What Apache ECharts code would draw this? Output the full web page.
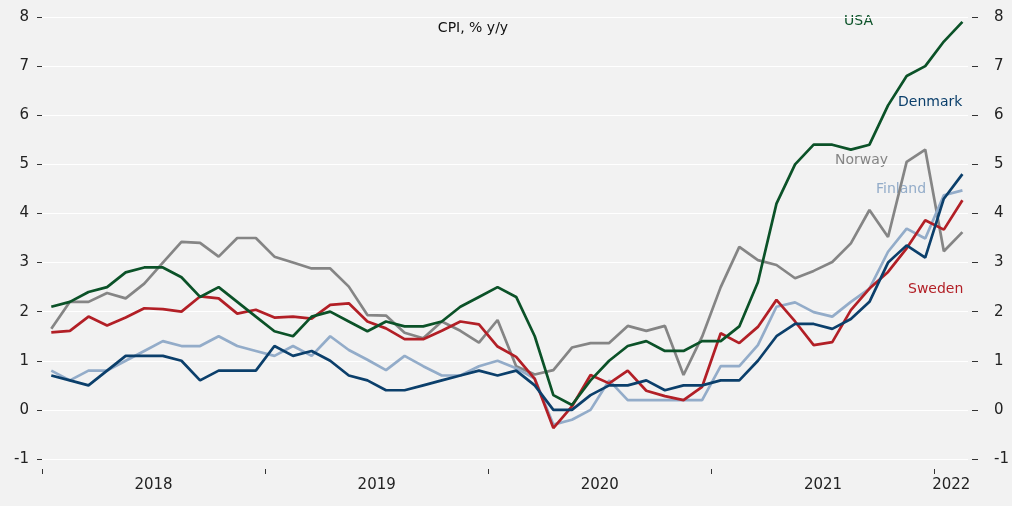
<!DOCTYPE html>
<html lang="en">
<head>
<meta charset="UTF-8">
<title>CPI, % y/y</title>
<script src="https://cdn.jsdelivr.net/npm/echarts@6/dist/echarts.min.js"></script>
<style>
  html, body { margin: 0; padding: 0; background: #f2f2f2; }
  #chart { width: 1012px; height: 506px; }
</style>
</head>
<body>
<div id="chart"></div>
<script>
// monthly CPI, % y/y, Jan 2018 .. Feb 2022
var usa = [2.1, 2.2, 2.4, 2.5, 2.8, 2.9, 2.9, 2.7, 2.3, 2.5, 2.2, 1.9,
           1.6, 1.5, 1.9, 2.0, 1.8, 1.6, 1.8, 1.7, 1.7, 1.8, 2.1, 2.3,
           2.5, 2.3, 1.5, 0.3, 0.1, 0.6, 1.0, 1.3, 1.4, 1.2, 1.2, 1.4,
           1.4, 1.7, 2.6, 4.2, 5.0, 5.4, 5.4, 5.3, 5.4, 6.2, 6.8, 7.0,
           7.5, 7.9]
var denmark = [0.7, 0.6, 0.5, 0.8, 1.1, 1.1, 1.1, 1.0, 0.6, 0.8, 0.8, 0.8,
               1.3, 1.1, 1.2, 1.0, 0.7, 0.6, 0.4, 0.4, 0.5, 0.6, 0.7, 0.8,
               0.7, 0.8, 0.5, 0.0, 0.0, 0.3, 0.5, 0.5, 0.6, 0.4, 0.5, 0.5,
               0.6, 0.6, 1.0, 1.5, 1.75, 1.75, 1.65, 1.85, 2.2, 3.0, 3.35, 3.1,
               4.3, 4.8]
var norway = [1.65, 2.2, 2.2, 2.38, 2.27, 2.57, 3.0, 3.42, 3.4, 3.12, 3.5, 3.5,
              3.12, 3.0, 2.88, 2.88, 2.51, 1.93, 1.92, 1.57, 1.46, 1.8, 1.61, 1.37,
              1.83, 0.89, 0.72, 0.81, 1.27, 1.36, 1.36, 1.71, 1.61, 1.71, 0.71, 1.49,
              2.5, 3.32, 3.05, 2.95, 2.68, 2.83, 3.01, 3.39, 4.07, 3.52, 5.05, 5.3,
              3.23, 3.62]
var finland = [0.8, 0.6, 0.8, 0.8, 1.0, 1.2, 1.4, 1.3, 1.3, 1.5, 1.3, 1.2,
               1.1, 1.3, 1.1, 1.5, 1.22, 1.02, 0.81, 1.1, 0.89, 0.7, 0.7, 0.89,
               1.0, 0.85, 0.64, -0.3, -0.2, 0.0, 0.6, 0.2, 0.2, 0.2, 0.2, 0.2,
               0.89, 0.89, 1.32, 2.1, 2.19, 1.99, 1.9, 2.2, 2.47, 3.22, 3.69, 3.49,
               4.37, 4.47]
var sweden = [1.58, 1.61, 1.9, 1.72, 1.88, 2.07, 2.05, 2.0, 2.31, 2.27, 1.96, 2.04,
              1.88, 1.9, 1.86, 2.14, 2.17, 1.8, 1.66, 1.44, 1.44, 1.61, 1.8, 1.74,
              1.29, 1.08, 0.63, -0.37, 0.07, 0.71, 0.54, 0.8, 0.39, 0.28, 0.2, 0.47,
              1.56, 1.36, 1.69, 2.24, 1.8, 1.32, 1.38, 2.03, 2.47, 2.81, 3.29, 3.86,
              3.67, 4.27]

var yearTicks = [0, 12, 24, 36, 48]           // months since Jan 2018
var yearLabelPos = [6, 18, 30, 42, 48.9]
var yearNames = ['2018', '2019', '2020', '2021', '2022']

var font = 'DejaVu Sans'

// points sit in the middle of their month
function toPoints(arr) {
    return arr.map(function (v, i) { return [i + 0.5, v] })
}

function line(name, data, color) {
    return {
        name: name,
        type: 'line',
        data: toPoints(data),
        showSymbol: false,
        lineStyle: { color: color, width: 2.7 },
        itemStyle: { color: color },
        animation: false
    }
}

var yAxisBase = {
    type: 'value',
    min: -1,
    max: 8,
    interval: 1,
    axisLine: { show: false },
    axisTick: { show: true, length: 5, lineStyle: { color: '#333' } },
    splitLine: { show: true, lineStyle: { color: '#ffffff', width: 1 } },
    axisLabel: { color: '#222', fontFamily: font, fontSize: 15 }
}

var option = {
    backgroundColor: '#f2f2f2',
    animation: false,
    grid: { left: 42, right: 44, top: 17, bottom: 47 },
    title: {
        text: 'CPI, % y/y',
        left: 468,
        top: 16,
        textAlign: 'center',
        textStyle: { fontFamily: font, fontSize: 14, fontWeight: 'normal', color: '#111' }
    },
    xAxis: {
        type: 'value',
        min: 0,
        max: 49.8,
        offset: 10,
        axisLine: { show: false, onZero: false },
        splitLine: { show: false },
        axisTick: {
            show: true, length: 5, inside: false,
            customValues: yearTicks,
            lineStyle: { color: '#333' }
        },
        axisLabel: {
            customValues: yearLabelPos,
            margin: 9,
            color: '#222', fontFamily: font, fontSize: 15,
            formatter: function (v) { return yearNames[yearLabelPos.indexOf(v)] }
        }
    },
    yAxis: [
        Object.assign({}, yAxisBase, {
            position: 'left', offset: 2,
            axisLabel: Object.assign({}, yAxisBase.axisLabel, { margin: 11 })
        }),
        Object.assign({}, yAxisBase, {
            position: 'right', offset: 4,
            splitLine: { show: false },
            axisTick: { show: true, length: 6, lineStyle: { color: '#333' } },
            axisLabel: Object.assign({}, yAxisBase.axisLabel, { margin: 22 })
        })
    ],
    series: [
        line('Norway', norway, '#858585'),
        line('Finland', finland, '#93acc9'),
        line('Sweden', sweden, '#b21f26'),
        line('Denmark', denmark, '#0b3f6b'),
        line('USA', usa, '#0b5228')
    ],
    graphic: [
        { type: 'text', left: 844, top: 14, style: { text: 'USA', fill: '#0b5228', font: '14px ' + font } },
        { type: 'text', left: 898, top: 95, style: { text: 'Denmark', fill: '#0b3f6b', font: '14px ' + font } },
        { type: 'text', left: 835, top: 153, style: { text: 'Norway', fill: '#858585', font: '14px ' + font } },
        { type: 'text', left: 876, top: 182, style: { text: 'Finland', fill: '#93acc9', font: '14px ' + font } },
        { type: 'text', left: 908, top: 282, style: { text: 'Sweden', fill: '#b21f26', font: '14px ' + font } }
    ]
}

var chart = echarts.init(document.getElementById('chart'))
chart.setOption(option)
</script>
</body>
</html>
